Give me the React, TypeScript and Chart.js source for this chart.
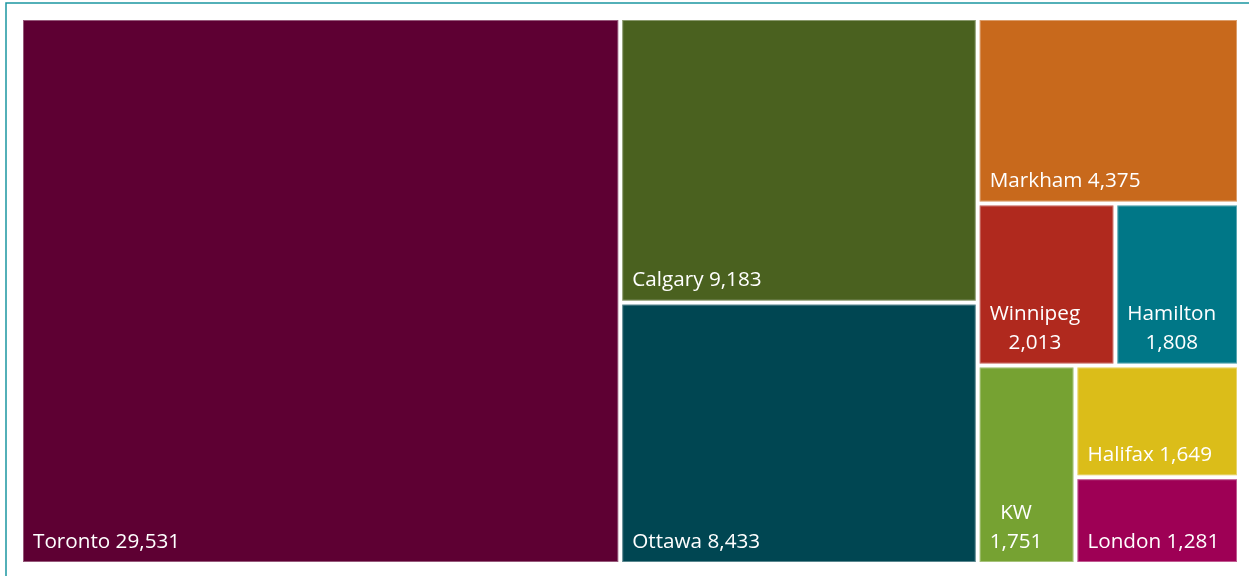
import React, { useEffect, useRef } from "react";
import { Chart, registerables } from "chart.js";

Chart.register(...registerables);

const cities: string[] = ["Toronto", "Calgary", "Ottawa", "Markham", "Winnipeg", "Hamilton", "KW", "Halifax", "London"];
const values: number[] = [29531, 9183, 8433, 4375, 2013, 1808, 1751, 1649, 1281];
const colors: string[] = ["#5E0033", "#4A611F", "#004652", "#C8691C", "#B0291E", "#007787", "#76A232", "#DBBD19", "#9E0055"];

type R = { x: number; y: number; w: number; h: number; i: number };

function layoutTree(idx: number[], rect: { x: number; y: number; w: number; h: number }, kx: number, ky: number): { rects: R[]; worst: number } {
  if (idx.length === 0) return { rects: [], worst: 0 };
  const V = idx.reduce((s, i) => s + values[i], 0);
  const wide = rect.w * kx >= rect.h * ky;
  let best: { rects: R[]; worst: number } | null = null;
  let S = 0;
  for (let k = 1; k <= idx.length; k++) {
    S += values[idx[k - 1]];
    const rects: R[] = [];
    let worst = 0;
    let rest: { x: number; y: number; w: number; h: number };
    if (wide) {
      const tw = rect.w * (S / V);
      let yy = rect.y;
      for (let j = 0; j < k; j++) {
        const hh = rect.h * (values[idx[j]] / S);
        rects.push({ x: rect.x, y: yy, w: tw, h: hh, i: idx[j] });
        const a = (tw * kx) / (hh * ky);
        worst = Math.max(worst, a, 1 / a);
        yy += hh;
      }
      rest = { x: rect.x + tw, y: rect.y, w: rect.w - tw, h: rect.h };
    } else {
      const th = rect.h * (S / V);
      let xx = rect.x;
      for (let j = 0; j < k; j++) {
        const ww = rect.w * (values[idx[j]] / S);
        rects.push({ x: xx, y: rect.y, w: ww, h: th, i: idx[j] });
        const a = (ww * kx) / (th * ky);
        worst = Math.max(worst, a, 1 / a);
        xx += ww;
      }
      rest = { x: rect.x, y: rect.y + th, w: rect.w, h: rect.h - th };
    }
    const sub = layoutTree(idx.slice(k), rest, kx, ky);
    worst = Math.max(worst, sub.worst);
    if (!best || worst < best.worst - 1e-9) best = { rects: rects.concat(sub.rects), worst };
  }
  return best!;
}

const treemapPlugin = {
  id: "treemapCells",
  beforeDraw(chart: any) {
    const ctx = chart.ctx;
    ctx.save();
    ctx.strokeStyle = "#1B96A1";
    ctx.lineWidth = 1.5;
    ctx.beginPath();
    ctx.moveTo(6, 576);
    ctx.lineTo(6, 3);
    ctx.lineTo(1249, 3);
    ctx.stroke();
    ctx.restore();
  },
  afterDatasetsDraw(chart: any) {
    const ctx = chart.ctx;
    const xs = chart.scales.x;
    const ys = chart.scales.y;
    const ca = chart.chartArea;
    const kx = (ca.right - ca.left) / 100;
    const ky = (ca.bottom - ca.top) / 100;
    const order = values.map((_, i) => i).sort((a, b) => values[b] - values[a]);
    const { rects } = layoutTree(order, { x: 0, y: 0, w: 100, h: 100 }, kx, ky);
    const gap = 2;
    ctx.save();
    for (const r of rects) {
      const x0 = xs.getPixelForValue(r.x) + gap;
      const x1 = xs.getPixelForValue(r.x + r.w) - gap;
      const y0 = Math.min(ys.getPixelForValue(r.y), ys.getPixelForValue(r.y + r.h)) + gap;
      const y1 = Math.max(ys.getPixelForValue(r.y), ys.getPixelForValue(r.y + r.h)) - gap;
      ctx.fillStyle = colors[r.i];
      ctx.fillRect(x0, y0, x1 - x0, y1 - y0);
      ctx.strokeStyle = "rgba(255,255,255,0.35)";
      ctx.lineWidth = 1;
      ctx.strokeRect(x0 + 0.5, y0 + 0.5, x1 - x0 - 1, y1 - y0 - 1);

      ctx.fillStyle = "#FFFFFF";
      ctx.font = '20.7px "Open Sans"';
      ctx.textBaseline = "alphabetic";
      const valStr = values[r.i].toLocaleString("en-US");
      const full = `${cities[r.i]} ${valStr}`;
      const pad = 10;
      const left = x0 + pad;
      const baseY = y1 - 14.5;
      const cw = x1 - x0;
      if (ctx.measureText(full).width <= cw - 2 * pad) {
        ctx.textAlign = "left";
        ctx.fillText(full, left, baseY);
      } else {
        const lines = [cities[r.i], valStr];
        const bw = Math.max(...lines.map((l) => ctx.measureText(l).width));
        ctx.textAlign = "center";
        const lh = 29;
        lines.forEach((l, j) => {
          ctx.fillText(l, left + bw / 2, baseY - (lines.length - 1 - j) * lh);
        });
      }
    }
    ctx.restore();
  },
};

export default function App() {
  const ref = useRef<HTMLCanvasElement | null>(null);
  useEffect(() => {
    document.body.style.margin = "0";
    if (!ref.current) return;
    const chart = new Chart(ref.current, {
      type: "scatter",
      data: { datasets: [{ data: [], pointRadius: 0 }] },
      options: {
        animation: false,
        responsive: false,
        layout: { padding: { left: 21, top: 18, right: 10, bottom: 12 } },
        plugins: { legend: { display: false }, tooltip: { enabled: false } },
        scales: {
          x: { type: "linear", min: 0, max: 100, display: false },
          y: { type: "linear", min: 0, max: 100, reverse: true, display: false },
        },
      },
      plugins: [treemapPlugin],
    });
    return () => chart.destroy();
  }, []);
  return (
    <div style={{ width: 1249, height: 576, background: "#FFFFFF" }}>
      <canvas ref={ref} width={1249} height={576} style={{ display: "block", width: 1249, height: 576 }} />
    </div>
  );
}
